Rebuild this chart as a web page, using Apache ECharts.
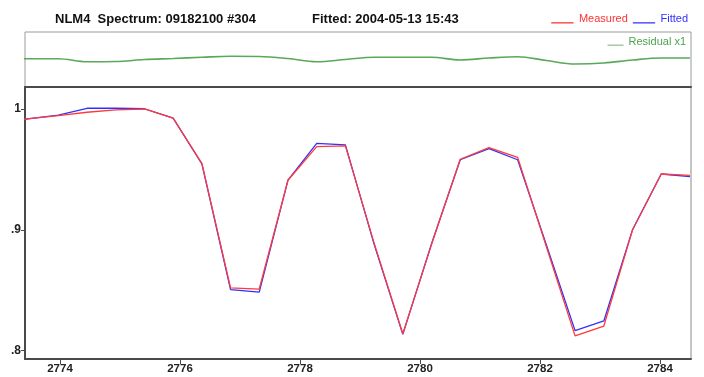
<!DOCTYPE html>
<html>
<head>
<meta charset="utf-8">
<script src="https://cdn.jsdelivr.net/npm/echarts@6/dist/echarts.min.js"></script>
<style>
html,body{margin:0;padding:0;background:#fff;}
#chart{width:704px;height:377px;}
</style>
</head>
<body>
<div id="chart"></div>
<script>
// ---- data ----
var wavenumber = [2773.015, 2773.493, 2773.972, 2774.451, 2774.929, 2775.408, 2775.886, 2776.365,
  2776.843, 2777.321, 2777.800, 2778.279, 2778.757, 2779.236, 2779.714, 2780.193, 2780.671,
  2781.150, 2781.628, 2782.107, 2782.585, 2783.064, 2783.542, 2784.021, 2784.499];
var measured = [0.9895, 0.9920, 0.9945, 0.9973, 0.9992, 1.0000, 0.9925, 0.9550,
  0.8520, 0.8510, 0.9410, 0.9688, 0.9695, 0.8890, 0.8140, 0.8880, 0.9584,
  0.9680, 0.9600, 0.8860, 0.8122, 0.8204, 0.8999, 0.9462, 0.9450];
var fitted = [0.9895, 0.9920, 0.9950, 1.0006, 1.0006, 1.0002, 0.9925, 0.9545,
  0.8505, 0.8485, 0.9412, 0.9716, 0.9703, 0.8880, 0.8135, 0.8885, 0.9580,
  0.9672, 0.9580, 0.8875, 0.8166, 0.8246, 0.9000, 0.9462, 0.9440];
var residual = [0.0003, 0.0003, 0.0003, -0.0027, -0.0025, -0.0005, 0.0005, 0.0017,
  0.0027, 0.0025, 0.0005, -0.0027, -0.0005, 0.0017, 0.0017, 0.0017, -0.0010,
  0.0010, 0.0023, -0.0015, -0.0050, -0.0040, -0.0010, 0.0010, 0.0010];
var xTicks = [2774, 2776, 2778, 2780, 2782, 2784];
var yTicks = [0.8, 0.9, 1.0];
var yTickLabels = ['.8', '.9', '1'];
var titleText = 'NLM4  Spectrum: 09182100 #304';
var fittedText = 'Fitted: 2004-05-13 15:43';

function pairs(xs, ys) { return xs.map(function (x, i) { return [x, ys[i]]; }); }

var sans = "'Liberation Sans', Arial, sans-serif";
var legendIcon = 'path://M0,0 M0,9 L23,9 L23,10.3 L0,10.3 Z';

var chart = echarts.init(document.getElementById('chart'), null, {renderer: 'canvas'});
chart.setOption({
  animation: false,
  backgroundColor: '#fff',
  title: [
    {text: titleText, left: 55, top: 13, padding: 0,
     textStyle: {fontFamily: sans, fontSize: 13, fontWeight: 'bold', color: '#111'}},
    {text: fittedText, left: 312, top: 13, padding: 0,
     textStyle: {fontFamily: sans, fontSize: 13, fontWeight: 'bold', color: '#111'}}
  ],
  legend: [
    {right: 16, top: 13, padding: 0, itemGap: 5, itemWidth: 23, itemHeight: 10,
     icon: legendIcon, selectedMode: false,
     textStyle: {fontFamily: sans, fontSize: 11},
     data: [{name: 'Measured', textStyle: {color: '#ff3030'}},
            {name: 'Fitted', textStyle: {color: '#3030ff'}}]},
    {right: 18, top: 36.5, padding: 0, itemWidth: 16, itemHeight: 10,
     icon: legendIcon, selectedMode: false,
     textStyle: {fontFamily: sans, fontSize: 11, color: '#4ea34e'},
     data: ['Residual x1']}
  ],
  grid: [
    {left: 25, right: 13, top: 32, height: 55, show: true, borderColor: '#9a9a9a', borderWidth: 1},
    {left: 25, right: 13, top: 87, bottom: 18, show: true, borderColor: '#8a8a8a', borderWidth: 1}
  ],
  xAxis: [
    {gridIndex: 0, type: 'value', min: 2773.417, max: 2784.517,
     axisLine: {show: true, onZero: false, lineStyle: {color: '#4a4a4a', width: 2}},
     axisTick: {show: false}, axisLabel: {show: false}, splitLine: {show: false}},
    {gridIndex: 1, type: 'value', min: 2773.417, max: 2784.517,
     axisLine: {show: true, onZero: false, lineStyle: {color: '#4a4a4a', width: 2}},
     axisTick: {show: true, customValues: xTicks, length: 5, lineStyle: {color: '#4a4a4a', width: 1}},
     axisLabel: {show: true, customValues: xTicks, margin: 4, color: '#222',
       fontFamily: sans, fontSize: 11.5, fontWeight: 'bold',
       formatter: function (v) { return String(Math.round(v)); }},
     splitLine: {show: false}}
  ],
  yAxis: [
    {gridIndex: 0, type: 'value', min: -0.028, max: 0.027, show: false},
    {gridIndex: 1, type: 'value', min: 0.7931, max: 1.0182,
     axisLine: {show: true, onZero: false, lineStyle: {color: '#4a4a4a', width: 2}},
     axisTick: {show: true, customValues: yTicks, length: 4, lineStyle: {color: '#4a4a4a', width: 1}},
     axisLabel: {show: true, customValues: yTicks, margin: 4, color: '#222',
       fontFamily: sans, fontSize: 12, fontWeight: 'bold',
       formatter: function (v) {
         for (var i = 0; i < yTicks.length; i++) {
           if (Math.abs(yTicks[i] - v) < 1e-6) return yTickLabels[i];
         }
         return '';
       }},
     splitLine: {show: false}}
  ],
  series: [
    {name: 'Residual x1', type: 'line', xAxisIndex: 0, yAxisIndex: 0,
     data: pairs(wavenumber, residual), symbol: 'none', smooth: 0.35,
     color: '#62ad62', lineStyle: {color: '#5aa85a', width: 1.6}},
    {name: 'Fitted', type: 'line', xAxisIndex: 1, yAxisIndex: 1,
     data: pairs(wavenumber, fitted), symbol: 'none',
     color: '#3030ff', lineStyle: {color: '#3030ff', width: 1.3}},
    {name: 'Measured', type: 'line', xAxisIndex: 1, yAxisIndex: 1,
     data: pairs(wavenumber, measured), symbol: 'none',
     color: '#ff3030', lineStyle: {color: '#ff3a3a', width: 1.3}}
  ]
});
</script>
</body>
</html>
